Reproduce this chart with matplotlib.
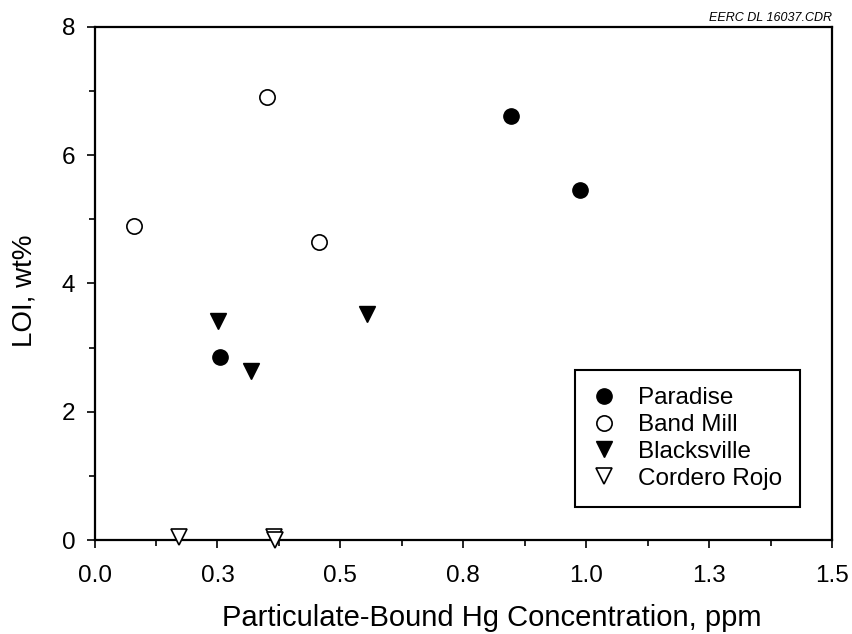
import numpy as np
import matplotlib.pyplot as plt
from matplotlib.ticker import FixedLocator

plt.rcParams['font.family'] = ['Liberation Sans', 'DejaVu Sans']

# data
paradise_x = [0.847, 0.988, 0.255]
paradise_y = [6.61, 5.46, 2.86]
bandmill_x = [0.351, 0.080, 0.457]
bandmill_y = [6.91, 4.89, 4.64]
blacks_x = [0.251, 0.318, 0.554]
blacks_y = [3.42, 2.63, 3.53]
cordero_x = [0.172, 0.365, 0.367]
cordero_y = [0.05, 0.05, 0.0]

xticks = [0.0, 0.25, 0.5, 0.75, 1.0, 1.25, 1.5]
xticklabels = ['0.0', '0.3', '0.5', '0.8', '1.0', '1.3', '1.5']
yticks = [0, 2, 4, 6, 8]

fig = plt.figure(figsize=(8.52, 6.34), dpi=100)
ax = fig.add_axes([0.111, 0.148, 0.8655, 0.810])

ms = 11
ax.plot(paradise_x, paradise_y, 'o', color='black', ms=ms, label='Paradise', clip_on=False)
ax.plot(bandmill_x, bandmill_y, 'o', mfc='white', mec='black', mew=1.2, ms=ms,
        label='Band Mill', clip_on=False)
ax.plot(blacks_x, blacks_y, 'v', color='black', ms=ms + 1, label='Blacksville', clip_on=False)
ax.plot(cordero_x, cordero_y, 'v', mfc='white', mec='black', mew=1.2, ms=ms + 1,
        label='Cordero Rojo', clip_on=False, zorder=5)

ax.set_xlim(0, 1.5)
ax.set_ylim(0, 8)
ax.set_xticks(xticks)
ax.set_xticklabels(xticklabels)
ax.set_yticks(yticks)
ax.xaxis.set_minor_locator(FixedLocator(np.arange(0.125, 1.5, 0.25)))
ax.yaxis.set_minor_locator(FixedLocator([1, 3, 5, 7]))
ax.tick_params(which='major', direction='out', length=6, width=1.2, labelsize=17.5)
ax.tick_params(axis='x', which='major', pad=12)
ax.tick_params(axis='y', which='major', pad=8)
ax.tick_params(which='minor', direction='out', length=4, width=1.2)
for s in ax.spines.values():
    s.set_linewidth(1.6)

ax.set_xlabel('Particulate-Bound Hg Concentration, ppm', fontsize=21, labelpad=12, x=0.538)
ax.set_ylabel('LOI, wt%', fontsize=20, labelpad=17, y=0.486)

leg = ax.legend(loc='lower right', bbox_to_anchor=(0.956, 0.065), borderaxespad=0,
                fontsize=17.5, fancybox=False, edgecolor='black', framealpha=1,
                handlelength=1.0, handletextpad=0.9, labelspacing=0.2, borderpad=0.7)
leg.get_frame().set_linewidth(1.5)

ax.text(1.0, 1.006, 'EERC DL 16037.CDR', transform=ax.transAxes, ha='right', va='bottom',
        fontsize=9, style='italic')

fig.savefig('out.png', dpi=100)
